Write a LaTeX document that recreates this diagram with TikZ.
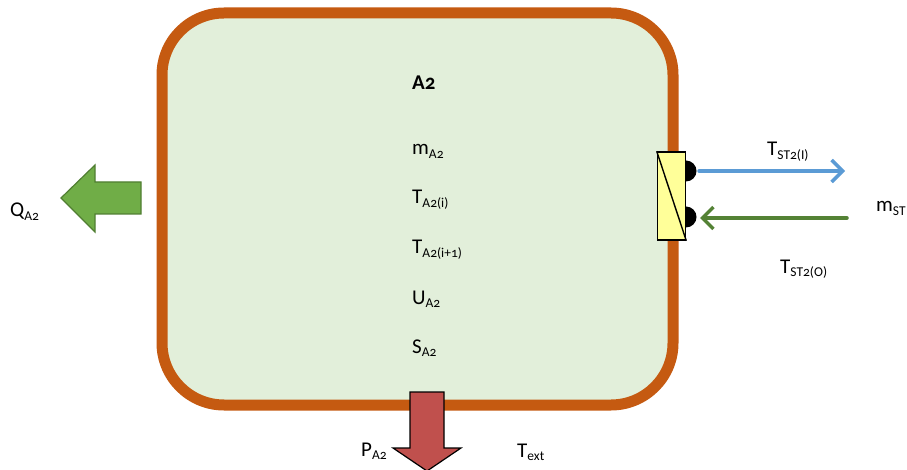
\documentclass[tikz,border=0pt]{standalone}
\usepackage{fontspec}
\setmainfont{Carlito}[Numbers=OldStyle]
\usetikzlibrary{arrows.meta}
\definecolor{boxfill}{HTML}{E2EFDA}
\definecolor{boxedge}{HTML}{C55A11}
\definecolor{hxfill}{HTML}{FFFF99}
\definecolor{flowblue}{HTML}{5B9BD5}
\definecolor{flowgreen}{HTML}{548235}
\definecolor{heatfill}{HTML}{70AD47}
\definecolor{heatedge}{HTML}{507E32}
\definecolor{powerfill}{HTML}{C0504D}
\tikzset{
  lbl/.style={font=\fontsize{21}{24}\selectfont, inner sep=0pt, anchor=base west},
  flow/.style={line width=3.5pt, line cap=round, -{Straight Barb[length=11pt,width=22pt,line width=3.5pt]}},
}
\newcommand{\sbs}[1]{\textsubscript{\fontsize{13.5}{14}\selectfont #1}}
\begin{document}
\begin{tikzpicture}[x=1pt,y=-1pt]
\useasboundingbox[fill=white] (0,0) rectangle (907,470);
% tank body
\draw[boxedge, line width=11pt, fill=boxfill, rounded corners=62pt] (162,13) rectangle (673,405);
% state variables
\node[lbl, font=\fontsize{21}{24}\selectfont\bfseries] (name) at (412,90) {A2};
\node[lbl] (m) at (412,155) {m\sbs{A2}};
\node[lbl] (ti) at (412,204) {T\sbs{A2(i)}};
\node[lbl] (ti1) at (412,254) {T\sbs{A2(i+1)}};
\node[lbl] (u) at (412,304) {U\sbs{A2}};
\node[lbl] (s) at (412,353) {S\sbs{A2}};
% heat exchanger ports
\fill[black] (686,171) circle (10.5pt);
\fill[black] (686,217) circle (10.5pt);
\node[draw=black, line width=1.6pt, fill=hxfill, minimum width=28pt, minimum height=88pt, inner sep=0pt] (hx) at (671.5,196) {};
\draw[line width=1.4pt] (hx.north west) -- (hx.south east);
\coordinate (inport) at (699,171);
\coordinate (outport) at (700,218);
\coordinate (hot) at (845,171);
\coordinate (cold) at (847,218);
\draw[flow, flowblue] (inport) -- (hot);
\draw[flow, flowgreen] (cold) -- (outport);
\node[lbl] (tin) at (767,156) {T\sbs{ST2(I)}};
\node[lbl] (mst) at (876,212) {m\sbs{ST}};
\node[lbl] (tout) at (780,273) {T\sbs{ST2(O)}};
% heat loss block arrow
\draw[heatedge, line width=1.2pt, fill=heatfill, line join=miter]
  (141,182) -- (95,182) -- (95,165) -- (61,198) -- (95,232) -- (95,214) -- (141,214) -- cycle;
\node[lbl] (q) at (10,217) {Q\sbs{A2}};
% power block arrow
\draw[black, line width=1.2pt, fill=powerfill, line join=miter]
  (410,392) -- (444,392) -- (444,448) -- (461,448) -- (427,471) -- (393,448) -- (410,448) -- cycle;
\node[lbl] (p) at (361,456) {P\sbs{A2}};
\node[lbl] (text) at (517,457) {T\sbs{ext}};
\end{tikzpicture}
\end{document}
